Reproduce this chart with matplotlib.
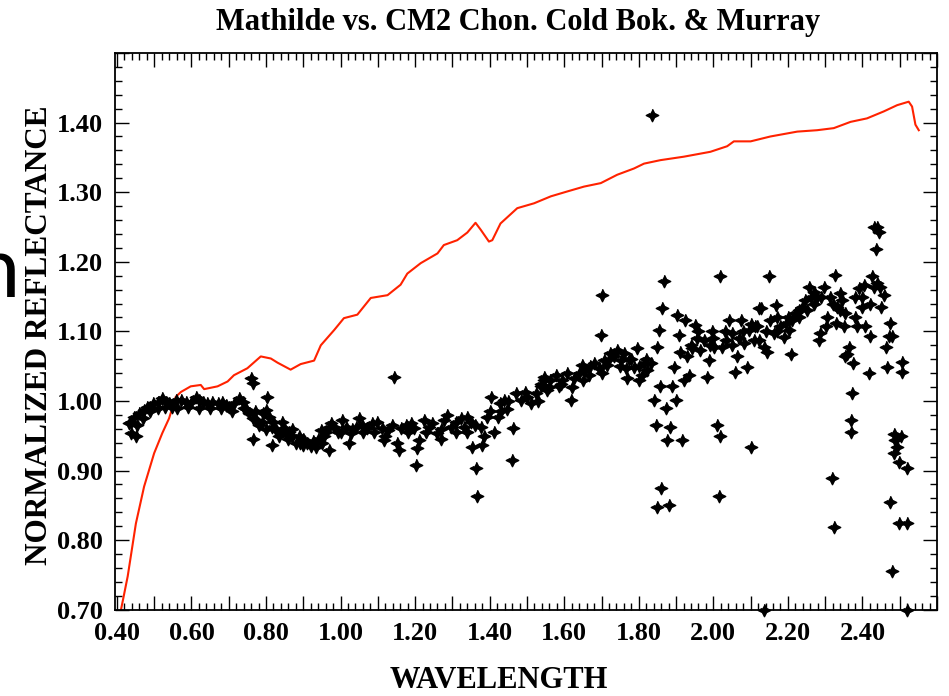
import matplotlib
matplotlib.use("Agg")
import matplotlib.pyplot as plt
from matplotlib.ticker import MultipleLocator, FuncFormatter

# Mathilde spectrum (red line)
mathilde_wave = [0.411, 0.429, 0.451, 0.473, 0.500, 0.522, 0.540, 0.558, 0.572, 0.598,
                 0.625, 0.634, 0.670, 0.697, 0.714, 0.750, 0.786, 0.813, 0.831, 0.866,
                 0.893, 0.929, 0.947, 0.983, 1.009, 1.045, 1.081, 1.126, 1.161, 1.179,
                 1.215, 1.260, 1.277, 1.313, 1.340, 1.362, 1.376, 1.398, 1.407, 1.429,
                 1.474, 1.519, 1.564, 1.608, 1.653, 1.698, 1.742, 1.787, 1.814, 1.858,
                 1.921, 1.992, 2.037, 2.055, 2.100, 2.153, 2.225, 2.278, 2.323, 2.368,
                 2.412, 2.457, 2.493, 2.524, 2.533, 2.542, 2.551]
mathilde_refl = [0.700, 0.748, 0.824, 0.877, 0.925, 0.954, 0.975, 1.006, 1.013, 1.021,
                 1.023, 1.017, 1.021, 1.028, 1.037, 1.047, 1.064, 1.061, 1.055, 1.045,
                 1.053, 1.058, 1.080, 1.102, 1.119, 1.124, 1.148, 1.152, 1.167, 1.183,
                 1.198, 1.212, 1.224, 1.231, 1.242, 1.256, 1.246, 1.229, 1.231, 1.255,
                 1.277, 1.284, 1.294, 1.301, 1.308, 1.313, 1.325, 1.334, 1.341, 1.346,
                 1.351, 1.358, 1.366, 1.373, 1.373, 1.380, 1.387, 1.389, 1.392, 1.401,
                 1.406, 1.416, 1.425, 1.430, 1.423, 1.397, 1.389]

# Murray CM2 chondrite (black stars), read in chunks along the wavelength axis
vis_wave = [0.433, 0.437, 0.451, 0.437, 0.446, 0.455, 0.460, 0.473, 0.482, 0.496,
            0.509, 0.522, 0.531, 0.540, 0.549, 0.558, 0.572, 0.585, 0.598, 0.612,
            0.621, 0.630, 0.643, 0.656, 0.670, 0.683, 0.692, 0.701, 0.715, 0.728,
            0.737, 0.746, 0.755, 0.764, 0.773, 0.782, 0.791, 0.800, 0.808, 0.817,
            0.826, 0.835, 0.844, 0.849, 0.853, 0.862, 0.871, 0.880, 0.889, 0.898,
            0.911, 0.925, 0.934, 0.947, 0.956, 0.969, 0.969,
            0.47, 0.49, 0.51, 0.53, 0.56, 0.59, 0.62, 0.65, 0.68, 0.71, 0.74, 0.77,
            0.79, 0.80, 0.82, 0.84, 0.86, 0.87, 0.89, 0.90, 0.92, 0.94, 0.95, 0.96,
            0.759, 0.764, 0.804, 0.764, 0.817]
vis_refl = [0.968, 0.954, 0.949, 0.970, 0.977, 0.966, 0.982, 0.987, 0.992, 0.997,
            0.999, 1.004, 0.999, 0.997, 0.992, 1.001, 1.001, 0.999, 0.999, 1.006,
            1.001, 0.999, 0.997, 0.999, 0.997, 0.999, 0.994, 0.992, 0.997, 1.004,
            0.999, 0.989, 0.982, 0.975, 0.973, 0.966, 0.982, 0.987, 0.977, 0.963,
            0.958, 0.949, 0.970, 0.961, 0.954, 0.956, 0.949, 0.939, 0.949, 0.937,
            0.939, 0.942, 0.934, 0.958, 0.949, 0.963, 0.930,
            0.975, 0.985, 0.990, 0.992, 0.990, 0.992, 0.990, 0.990, 0.990, 0.985, 0.990, 0.985,
            0.970, 0.960, 0.970, 0.955, 0.945, 0.960, 0.940, 0.945, 0.935, 0.945, 0.940, 0.955,
            1.033, 1.026, 1.006, 0.946, 0.937]

nir1_wave = [0.974, 0.983, 0.992, 1.005, 1.014, 1.023, 1.027, 1.041, 1.050, 1.058,
             1.072, 1.085, 1.099, 1.112, 1.117, 1.126, 1.139, 1.152, 1.157, 1.161,
             1.175, 1.188, 1.197, 1.202, 1.210, 1.206, 1.224, 1.237, 1.246, 1.260,
             1.269, 1.277, 1.286, 1.295, 1.309, 1.322, 1.331, 1.340, 1.349, 1.353,
             1.362, 1.367, 1.376, 1.380, 1.385, 1.394, 1.403, 1.412, 1.421, 1.429,
             1.438, 1.447, 1.461, 1.463, 1.470, 1.483, 1.496, 1.510, 1.523, 1.537,
             1.546, 1.143,
             1.00, 1.03, 1.06, 1.09, 1.12, 1.18, 1.23, 1.27, 1.31, 1.34, 1.36, 1.40,
             1.43, 1.45, 1.50, 1.53]
nir1_refl = [0.968, 0.963, 0.956, 0.973, 0.963, 0.939, 0.954, 0.963, 0.975, 0.966,
             0.961, 0.968, 0.970, 0.961, 0.944, 0.958, 0.966, 0.939, 0.930, 0.961,
             0.966, 0.968, 0.961, 0.908, 0.944, 0.932, 0.973, 0.963, 0.968, 0.954,
             0.946, 0.973, 0.980, 0.963, 0.970, 0.975, 0.963, 0.977, 0.970, 0.934,
             0.903, 0.863, 0.963, 0.937, 0.949, 0.977, 1.006, 0.956, 0.977, 0.997,
             1.001, 0.989, 0.915, 0.961, 1.011, 1.001, 1.013, 0.997, 1.011, 1.021,
             1.030, 1.035,
             0.955, 0.960, 0.955, 0.955, 0.950, 0.955, 0.955, 0.960, 0.955, 0.955, 0.965, 0.985,
             0.985, 1.000, 1.005, 1.000]

nir2_wave = [1.537, 1.546, 1.555, 1.563, 1.577, 1.586, 1.595, 1.608, 1.617, 1.626,
             1.640, 1.648, 1.657, 1.666, 1.680, 1.693, 1.698, 1.702, 1.706, 1.715,
             1.724, 1.733, 1.742, 1.751, 1.760, 1.765, 1.769, 1.774, 1.787, 1.796,
             1.800, 1.809, 1.814, 1.823, 1.832, 1.840, 1.845, 1.849, 1.854, 1.858,
             1.860, 1.863, 1.867, 1.872, 1.848, 1.881, 1.876, 1.885, 1.890, 1.894,
             1.899, 1.903, 1.908, 1.916, 1.921, 1.925, 1.930, 1.934, 1.943, 1.952,
             1.957, 1.965, 1.974, 1.983, 1.988, 1.997, 2.001, 2.010, 2.015, 2.018,
             2.019, 2.024, 2.033, 2.042, 2.050, 2.059, 2.064, 2.073, 2.082, 2.091,
             2.095, 2.100, 2.109, 2.118, 2.122,
             1.56, 1.59, 1.62, 1.65, 1.67, 1.70, 1.72, 1.75, 1.78, 1.80, 1.82, 1.91,
             1.94, 1.96, 1.99, 2.00, 2.03, 2.05, 2.07, 2.08, 2.10]
nir2_refl = [1.025, 1.035, 1.016, 1.030, 1.037, 1.021, 1.030, 1.040, 1.001, 1.033,
             1.040, 1.052, 1.045, 1.037, 1.054, 1.047, 1.095, 1.152, 1.059, 1.052,
             1.069, 1.064, 1.073, 1.059, 1.069, 1.047, 1.033, 1.061, 1.049, 1.076,
             1.030, 1.037, 1.054, 1.045, 1.054, 1.001, 0.966, 1.078, 1.102, 1.021,
             0.875, 1.133, 1.172, 0.990, 0.848, 0.851, 0.944, 0.963, 1.021, 1.049,
             1.001, 1.124, 1.095, 0.944, 1.030, 1.116, 1.064, 1.037, 1.076, 1.109,
             1.090, 1.073, 1.088, 1.035, 1.059, 1.100, 1.078, 0.966, 0.863, 0.949,
             1.179, 1.078, 1.088, 1.116, 1.097, 1.042, 1.064, 1.116, 1.083, 1.049,
             1.102, 0.934, 1.088, 1.107, 1.133,
             1.020, 1.025, 1.020, 1.030, 1.050, 1.040, 1.060, 1.050, 1.060, 1.050, 1.060, 1.070,
             1.080, 1.100, 1.080, 1.090, 1.100, 1.080, 1.090, 1.100, 1.110]

nir3_wave = [2.113, 2.122, 2.127, 2.135, 2.144, 2.149, 2.153, 2.162, 2.167, 2.171,
             2.180, 2.189, 2.194, 2.203, 2.207, 2.211, 2.220, 2.229, 2.238, 2.247,
             2.256, 2.261, 2.270, 2.278, 2.283, 2.287, 2.296, 2.301, 2.305, 2.314,
             2.319, 2.323, 2.326, 2.328, 2.332, 2.341, 2.346, 2.350, 2.353, 2.354,
             2.359, 2.363, 2.368, 2.370, 2.372, 2.374, 2.381, 2.386, 2.390, 2.399,
             2.404, 2.408, 2.417, 2.421, 2.426, 2.430, 2.430, 2.435, 2.439, 2.444,
             2.448, 2.451, 2.457, 2.462, 2.466, 2.471, 2.475, 2.475, 2.478, 2.480,
             2.484, 2.484, 2.488, 2.493, 2.497, 2.497, 2.506, 2.506, 2.520, 2.520,
             2.502,
             2.14, 2.17, 2.20, 2.23, 2.25, 2.27, 2.29, 2.32, 2.34, 2.38, 2.40, 2.42,
             2.44, 1.836, 2.135, 2.520]
nir3_refl = [1.107, 1.088, 1.133, 1.078, 1.071, 1.179, 1.116, 1.097, 1.138, 1.121,
             1.107, 1.092, 1.112, 1.102, 1.068, 1.116, 1.126, 1.121, 1.135, 1.145,
             1.164, 1.150, 1.157, 1.150, 1.088, 1.097, 1.164, 1.107, 1.121, 1.150,
             0.889, 0.819, 1.181, 1.112, 1.135, 1.155, 1.145, 1.107, 1.064, 1.126,
             1.068, 1.078, 0.973, 0.956, 1.011, 1.054, 1.150, 1.107, 1.162, 1.135,
             1.167, 1.107, 1.040, 1.093, 1.179, 1.164, 1.250, 1.219, 1.250, 1.243,
             1.164, 1.135, 1.152, 1.078, 1.049, 1.093, 1.112, 0.855, 0.755, 1.093,
             0.953, 0.925, 0.944, 0.934, 0.913, 0.824, 1.056, 1.042, 0.903, 0.824,
             0.949,
             1.100, 1.100, 1.120, 1.130, 1.130, 1.140, 1.150, 1.140, 1.130, 1.120, 1.150, 1.140,
             1.170, 1.411, 0.700, 0.700]

murray_wave = vis_wave + nir1_wave + nir2_wave + nir3_wave
murray_refl = vis_refl + nir1_refl + nir2_refl + nir3_refl

title = "Mathilde vs. CM2 Chon. Cold Bok. & Murray"
serif = "Liberation Serif"

# fat 4-pointed star like the IDL plot symbol
star = [(0, 1), (0.33, 0.33), (1, 0), (0.33, -0.33), (0, -1), (-0.33, -0.33), (-1, 0), (-0.33, 0.33)]

fig = plt.figure(figsize=(9.49, 6.96), dpi=100)
ax = fig.add_axes([0.1212, 0.1239, 0.8662, 0.8000])

ax.plot(mathilde_wave, mathilde_refl, color="#ff2200", lw=1.5)
ax.plot(murray_wave, murray_refl, ls="none", marker=star, ms=9,
        color="black", clip_on=False)

ax.set_xlim(0.395, 2.60)
ax.set_ylim(0.70, 1.50)

ax.xaxis.set_major_locator(MultipleLocator(0.1))
ax.xaxis.set_minor_locator(MultipleLocator(0.02))
ax.yaxis.set_major_locator(MultipleLocator(0.1))
ax.yaxis.set_minor_locator(MultipleLocator(0.02))


def xfmt(v, pos):
    k = int(round(v * 10))
    if k % 2 == 0 and 4 <= k <= 24:
        return "%.2f" % v
    return ""


def yfmt(v, pos):
    if v > 1.45:
        return ""
    return "%.2f" % v


ax.xaxis.set_major_formatter(FuncFormatter(xfmt))
ax.yaxis.set_major_formatter(FuncFormatter(yfmt))

ax.tick_params(which="both", direction="in", top=True, right=True, width=1.0)
ax.tick_params(which="major", length=10, pad=9)
ax.tick_params(which="minor", length=5)
for lab in ax.get_xticklabels() + ax.get_yticklabels():
    lab.set_fontfamily(serif)
    lab.set_fontweight("bold")
    lab.set_fontsize(19)
for s in ax.spines.values():
    s.set_linewidth(1.3)

ax.set_xlabel("WAVELENGTH", fontfamily=serif, fontweight="bold", fontsize=22, va="center")
ax.xaxis.set_label_coords(0.467, -0.127)
ax.set_ylabel("NORMALIZED REFLECTANCE", fontfamily=serif, fontweight="bold", fontsize=22.5,
              va="center")
ax.yaxis.set_label_coords(-0.092, 0.493)

fig.text(0.546, 0.968, title, ha="center", va="center", fontfamily=serif,
         fontweight="bold", fontsize=22)

# cropped slide text at the left edge
fig.text(0.021, 0.573, "n", ha="right", va="baseline", fontfamily="Lato", fontsize=61)

fig.savefig("out.png", dpi=100)
